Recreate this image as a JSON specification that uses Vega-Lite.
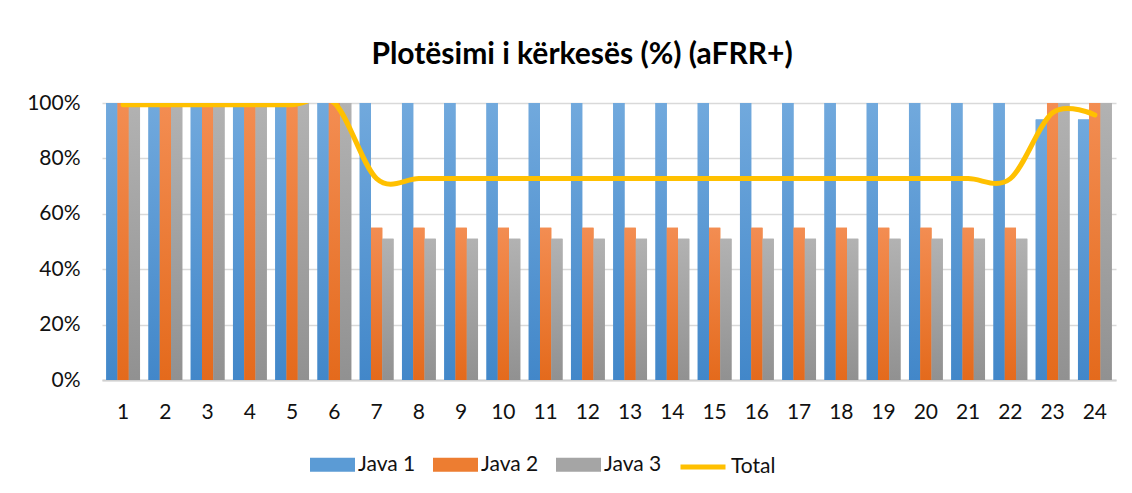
{
  "$schema": "https://vega.github.io/schema/vega-lite/v6.json",
  "width": 1014,
  "height": 277,
  "autosize": {"type": "none"},
  "padding": {"left": 102, "top": 103, "right": 16, "bottom": 113},
  "background": "white",
  "title": {
    "text": "Plotësimi i kërkesës (%) (aFRR+)",
    "font": "Lato",
    "fontSize": 30,
    "fontWeight": "bold",
    "color": "#000000",
    "anchor": "middle",
    "frame": "group",
    "offset": 22,
    "dx": -27
  },
  "config": {
    "view": {"stroke": null}
  },
  "data": {
    "values": [
      {"hour": 1, "series": "Java 1", "value": 1}, {"hour": 1, "series": "Java 2", "value": 1}, {"hour": 1, "series": "Java 3", "value": 1}, {"hour": 1, "series": "Total", "value": 0.994},
      {"hour": 2, "series": "Java 1", "value": 1}, {"hour": 2, "series": "Java 2", "value": 1}, {"hour": 2, "series": "Java 3", "value": 1}, {"hour": 2, "series": "Total", "value": 0.994},
      {"hour": 3, "series": "Java 1", "value": 1}, {"hour": 3, "series": "Java 2", "value": 1}, {"hour": 3, "series": "Java 3", "value": 1}, {"hour": 3, "series": "Total", "value": 0.994},
      {"hour": 4, "series": "Java 1", "value": 1}, {"hour": 4, "series": "Java 2", "value": 1}, {"hour": 4, "series": "Java 3", "value": 1}, {"hour": 4, "series": "Total", "value": 0.994},
      {"hour": 5, "series": "Java 1", "value": 1}, {"hour": 5, "series": "Java 2", "value": 1}, {"hour": 5, "series": "Java 3", "value": 1}, {"hour": 5, "series": "Total", "value": 0.994},
      {"hour": 6, "series": "Java 1", "value": 1}, {"hour": 6, "series": "Java 2", "value": 1}, {"hour": 6, "series": "Java 3", "value": 1}, {"hour": 6, "series": "Total", "value": 1.0},
      {"hour": 7, "series": "Java 1", "value": 1}, {"hour": 7, "series": "Java 2", "value": 0.55}, {"hour": 7, "series": "Java 3", "value": 0.51}, {"hour": 7, "series": "Total", "value": 0.727},
      {"hour": 8, "series": "Java 1", "value": 1}, {"hour": 8, "series": "Java 2", "value": 0.55}, {"hour": 8, "series": "Java 3", "value": 0.51}, {"hour": 8, "series": "Total", "value": 0.727},
      {"hour": 9, "series": "Java 1", "value": 1}, {"hour": 9, "series": "Java 2", "value": 0.55}, {"hour": 9, "series": "Java 3", "value": 0.51}, {"hour": 9, "series": "Total", "value": 0.727},
      {"hour": 10, "series": "Java 1", "value": 1}, {"hour": 10, "series": "Java 2", "value": 0.55}, {"hour": 10, "series": "Java 3", "value": 0.51}, {"hour": 10, "series": "Total", "value": 0.727},
      {"hour": 11, "series": "Java 1", "value": 1}, {"hour": 11, "series": "Java 2", "value": 0.55}, {"hour": 11, "series": "Java 3", "value": 0.51}, {"hour": 11, "series": "Total", "value": 0.727},
      {"hour": 12, "series": "Java 1", "value": 1}, {"hour": 12, "series": "Java 2", "value": 0.55}, {"hour": 12, "series": "Java 3", "value": 0.51}, {"hour": 12, "series": "Total", "value": 0.727},
      {"hour": 13, "series": "Java 1", "value": 1}, {"hour": 13, "series": "Java 2", "value": 0.55}, {"hour": 13, "series": "Java 3", "value": 0.51}, {"hour": 13, "series": "Total", "value": 0.727},
      {"hour": 14, "series": "Java 1", "value": 1}, {"hour": 14, "series": "Java 2", "value": 0.55}, {"hour": 14, "series": "Java 3", "value": 0.51}, {"hour": 14, "series": "Total", "value": 0.727},
      {"hour": 15, "series": "Java 1", "value": 1}, {"hour": 15, "series": "Java 2", "value": 0.55}, {"hour": 15, "series": "Java 3", "value": 0.51}, {"hour": 15, "series": "Total", "value": 0.727},
      {"hour": 16, "series": "Java 1", "value": 1}, {"hour": 16, "series": "Java 2", "value": 0.55}, {"hour": 16, "series": "Java 3", "value": 0.51}, {"hour": 16, "series": "Total", "value": 0.727},
      {"hour": 17, "series": "Java 1", "value": 1}, {"hour": 17, "series": "Java 2", "value": 0.55}, {"hour": 17, "series": "Java 3", "value": 0.51}, {"hour": 17, "series": "Total", "value": 0.727},
      {"hour": 18, "series": "Java 1", "value": 1}, {"hour": 18, "series": "Java 2", "value": 0.55}, {"hour": 18, "series": "Java 3", "value": 0.51}, {"hour": 18, "series": "Total", "value": 0.727},
      {"hour": 19, "series": "Java 1", "value": 1}, {"hour": 19, "series": "Java 2", "value": 0.55}, {"hour": 19, "series": "Java 3", "value": 0.51}, {"hour": 19, "series": "Total", "value": 0.727},
      {"hour": 20, "series": "Java 1", "value": 1}, {"hour": 20, "series": "Java 2", "value": 0.55}, {"hour": 20, "series": "Java 3", "value": 0.51}, {"hour": 20, "series": "Total", "value": 0.727},
      {"hour": 21, "series": "Java 1", "value": 1}, {"hour": 21, "series": "Java 2", "value": 0.55}, {"hour": 21, "series": "Java 3", "value": 0.51}, {"hour": 21, "series": "Total", "value": 0.727},
      {"hour": 22, "series": "Java 1", "value": 1}, {"hour": 22, "series": "Java 2", "value": 0.55}, {"hour": 22, "series": "Java 3", "value": 0.51}, {"hour": 22, "series": "Total", "value": 0.727},
      {"hour": 23, "series": "Java 1", "value": 0.94}, {"hour": 23, "series": "Java 2", "value": 1}, {"hour": 23, "series": "Java 3", "value": 1}, {"hour": 23, "series": "Total", "value": 0.965},
      {"hour": 24, "series": "Java 1", "value": 0.94}, {"hour": 24, "series": "Java 2", "value": 1}, {"hour": 24, "series": "Java 3", "value": 1}, {"hour": 24, "series": "Total", "value": 0.957}
    ]
  },
  "encoding": {
    "x": {
      "field": "hour",
      "type": "ordinal",
      "title": null,
      "scale": {"paddingInner": 0.2, "paddingOuter": 0.1},
      "axis": {
        "labelAngle": 0,
        "labelFont": "Lato",
        "labelFontSize": 21,
        "labelColor": "#111111",
        "labelPadding": 21,
        "ticks": false,
        "tickSize": 0,
        "domainColor": "#d0d0d0",
        "domainWidth": 2,
        "grid": false
      }
    },
    "y": {
      "field": "value",
      "type": "quantitative",
      "title": null,
      "scale": {"domain": [0, 1], "nice": false},
      "axis": {
        "values": [0, 0.2, 0.4, 0.6, 0.8, 1],
        "format": ".0%",
        "labelFont": "Lato",
        "labelFontSize": 21,
        "labelColor": "#111111",
        "labelPadding": 22,
        "ticks": false,
        "tickSize": 0,
        "domain": false,
        "grid": true,
        "gridColor": "#d9d9d9",
        "gridWidth": 1.5
      }
    }
  },
  "layer": [
    {
      "transform": [{"filter": "datum.series !== 'Total'"}],
      "mark": {"type": "bar"},
      "encoding": {
        "xOffset": {"field": "series", "type": "nominal", "sort": ["Java 1", "Java 2", "Java 3"]},
        "fill": {
          "field": "series",
          "type": "nominal",
          "scale": {
            "domain": ["Java 1", "Java 2", "Java 3"],
            "range": ["#5B9BD5", "#ED7D31", "#A5A5A5"]
          },
          "legend": {
            "orient": "none",
            "legendX": 208,
            "legendY": 339,
            "direction": "horizontal",
            "title": null,
            "padding": 0,
            "symbolType": "M-1,-0.311H1V0.311H-1Z",
            "symbolSize": 2025,
            "symbolStrokeWidth": 0,
            "labelFont": "Lato",
            "labelFontSize": 21,
            "labelColor": "#111111",
            "labelOffset": 3,
            "columnPadding": 17
          }
        }
      }
    },
    {
      "transform": [{"filter": "datum.series !== 'Total'"}],
      "mark": {"type": "bar"},
      "encoding": {
        "xOffset": {"field": "series", "type": "nominal", "sort": ["Java 1", "Java 2", "Java 3"]},
        "fill": {
          "condition": [
            {"test": "datum.series === 'Java 1'", "value": {"gradient": "linear", "x1": 0, "y1": 0, "x2": 0, "y2": 1, "stops": [{"offset": 0, "color": "#71A9DD"}, {"offset": 1, "color": "#4287C9"}]}},
            {"test": "datum.series === 'Java 2'", "value": {"gradient": "linear", "x1": 0, "y1": 0, "x2": 0, "y2": 1, "stops": [{"offset": 0, "color": "#F38D52"}, {"offset": 1, "color": "#E46A1C"}]}}
          ],
          "value": {"gradient": "linear", "x1": 0, "y1": 0, "x2": 0, "y2": 1, "stops": [{"offset": 0, "color": "#B2B2B2"}, {"offset": 1, "color": "#919191"}]}
        }
      }
    },
    {
      "transform": [{"filter": "datum.series === 'Total'"}],
      "mark": {"type": "line", "interpolate": "cardinal", "strokeWidth": 5, "strokeCap": "round", "strokeJoin": "round", "clip": true},
      "encoding": {
        "stroke": {
          "field": "series",
          "type": "nominal",
          "scale": {"domain": ["Total"], "range": ["#FFC000"]},
          "legend": {
            "orient": "none",
            "legendX": 576,
            "legendY": 339,
            "direction": "horizontal",
            "title": null,
            "padding": 0,
            "symbolType": "stroke",
            "symbolSize": 2025,
            "symbolStrokeWidth": 5,
            "labelFont": "Lato",
            "labelFontSize": 21,
            "labelColor": "#111111",
            "labelOffset": 3
          }
        }
      }
    }
  ]
}
